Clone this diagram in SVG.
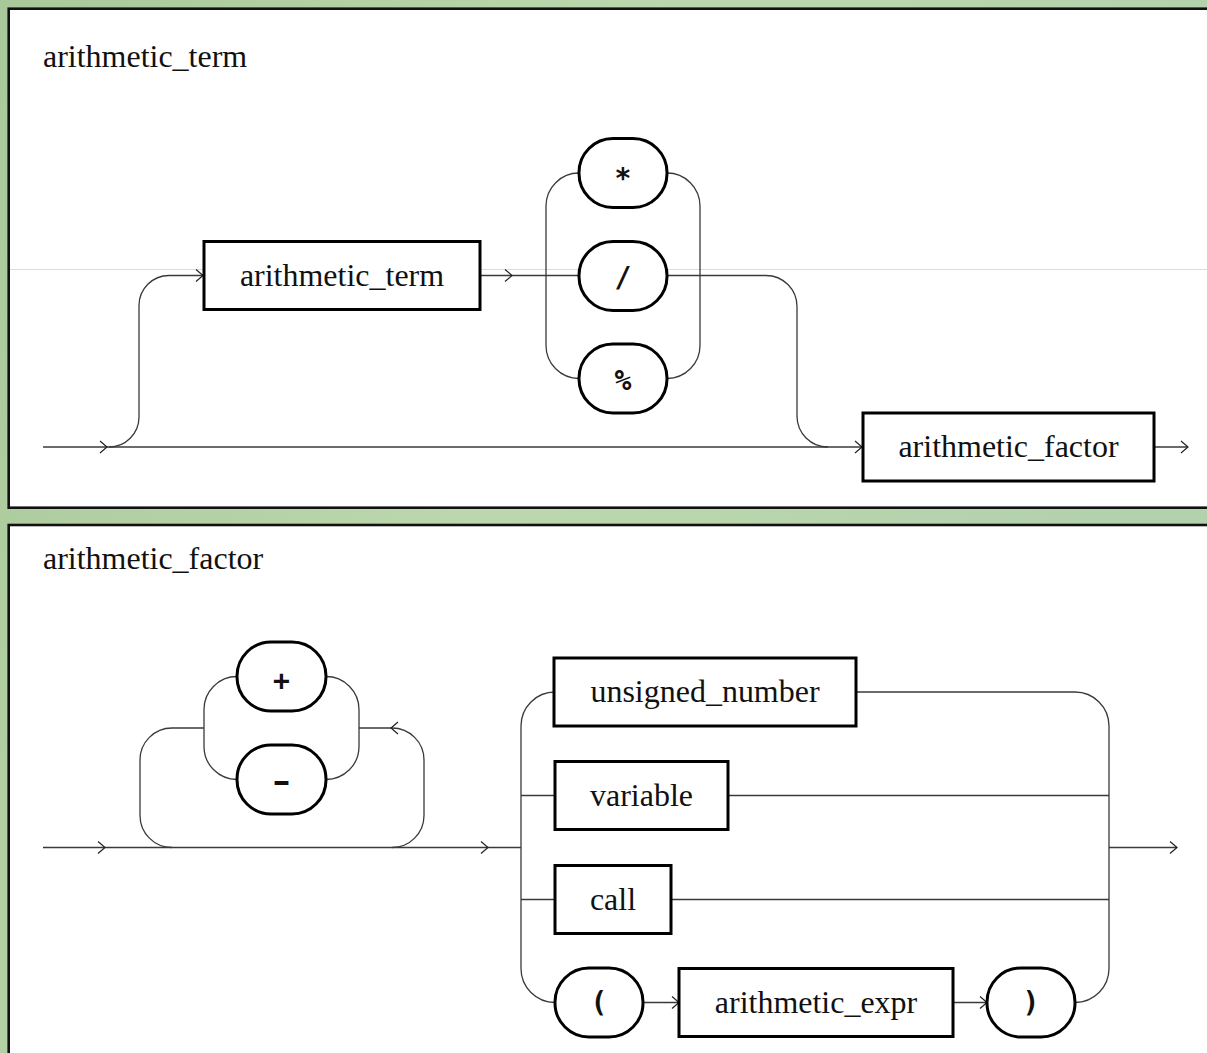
<svg xmlns="http://www.w3.org/2000/svg" width="1207" height="1053" viewBox="0 0 1207 1053">
<style>
.panel{fill:#ffffff;stroke:#111;stroke-width:2.6}
.title{font-family:"Liberation Serif","Times New Roman",serif;font-size:31px;fill:#111}
.box{fill:#fff;stroke:#000;stroke-width:3}
.oval{fill:#fff;stroke:#000;stroke-width:3}
.bt{font-family:"Liberation Serif","Times New Roman",serif;font-size:31px;fill:#111;text-anchor:middle}
.ot{font-family:"DejaVu Sans Mono","Liberation Mono",monospace;font-weight:bold;font-size:28px;fill:#111;text-anchor:middle}
.ln{fill:none;stroke:#3a3a3a;stroke-width:1.3}
.ar{fill:none;stroke:#222;stroke-width:1.2}
</style>
<defs>
<linearGradient id="bg" x1="0" y1="0" x2="1" y2="0.3">
<stop offset="0" stop-color="#a9c99a"/>
<stop offset="0.5" stop-color="#bcd7ad"/>
<stop offset="1" stop-color="#b2d2ac"/>
</linearGradient>
</defs>
<rect x="0" y="0" width="1207" height="1053" fill="url(#bg)"/>
<g id="panel1">
<rect class="panel" x="8.7" y="8.7" width="1220" height="499"/>
<path d="M10,269.5 H1207" stroke="#d4e4cc" stroke-width="1" fill="none"/>
<text class="title" transform="matrix(1.032 0 0 1 43 66.5)" x="0" y="0">arithmetic_term</text>
</g>
<g id="panel2">
<rect class="panel" x="8.7" y="525" width="1220" height="540"/>
<text class="title" transform="matrix(1.032 0 0 1 43 568.5)" x="0" y="0">arithmetic_factor</text>
</g>
<g id="connectors">
<path class="ln" d="M43,447 H862"/>
<path class="ln" d="M109,447 A30,30 0 0 0 139,417 V305.5 A30,30 0 0 1 169,275.5 H203"/>
<path class="ln" d="M480,275.5 H579"/>
<path class="ln" d="M579,173 A33,33 0 0 0 546,206 V345.5 A33,33 0 0 0 579,378.5"/>
<path class="ln" d="M667,173 A33,33 0 0 1 700,206 V345.5 A33,33 0 0 1 667,378.5"/>
<path class="ln" d="M667,275.5 H766 A31,31 0 0 1 797,306.5 V416 A31,31 0 0 0 828,447"/>
<path class="ln" d="M1154,447 H1188"/>
<polyline class="ar" points="100,441 107,447 100,453"/>
<polyline class="ar" points="196,269.5 203,275.5 196,281.5"/>
<polyline class="ar" points="505,269.5 512,275.5 505,281.5"/>
<polyline class="ar" points="855,441 862,447 855,453"/>
<polyline class="ar" points="1181,441 1188,447 1181,453"/>

<path class="ln" d="M43,847.5 H521"/>
<path class="ln" d="M172,847.5 A32,32 0 0 1 140,815.5 V760 A32,32 0 0 1 172,728 H204"/>
<path class="ln" d="M359,728 H392 A32,32 0 0 1 424,760 V815.5 A32,32 0 0 1 392,847.5"/>
<path class="ln" d="M237,676.5 A33,33 0 0 0 204,709.5 V746.5 A33,33 0 0 0 237,779.5"/>
<path class="ln" d="M326,676.5 A33,33 0 0 1 359,709.5 V746.5 A33,33 0 0 1 326,779.5"/>
<polyline class="ar" points="98,841.5 105,847.5 98,853.5"/>
<polyline class="ar" points="481,841.5 488,847.5 481,853.5"/>
<polyline class="ar" points="398,722 391,728 398,734"/>
<path class="ln" d="M555,692 A34,34 0 0 0 521,726 V968.5 A34,34 0 0 0 555,1002.5"/>
<path class="ln" d="M521,795.5 H555 M521,899.5 H555"/>
<path class="ln" d="M856,692 H1075 A34,34 0 0 1 1109,726 V968.5 A34,34 0 0 1 1075,1002.5"/>
<path class="ln" d="M728,795.5 H1109 M671,899.5 H1109"/>
<path class="ln" d="M1109,847.5 H1177"/>
<polyline class="ar" points="1170,841.5 1177,847.5 1170,853.5"/>
<path class="ln" d="M643,1002.5 H679 M953,1002.5 H987"/>
<polyline class="ar" points="672,996.5 679,1002.5 672,1008.5"/>
<polyline class="ar" points="980,996.5 987,1002.5 980,1008.5"/>
</g>
<g id="n_arithmetic_term">
<rect class="box" x="204" y="241.5" width="276" height="68"/>
<text class="bt" transform="matrix(1.032 0 0 1 342 285.5)" x="0" y="0">arithmetic_term</text>
</g>
<g id="n_mul">
<rect class="oval" x="579" y="138.5" width="88" height="69" rx="34" ry="34"/>
<text class="ot" x="623" y="188">*</text>
</g>
<g id="n_div">
<rect class="oval" x="579" y="241.5" width="88" height="69" rx="34" ry="34"/>
<text class="ot" x="623" y="287">/</text>
</g>
<g id="n_mod">
<rect class="oval" x="579" y="344" width="88" height="69" rx="34" ry="34"/>
<text class="ot" x="623" y="390">%</text>
</g>
<g id="n_arithmetic_factor">
<rect class="box" x="863" y="413" width="291" height="68"/>
<text class="bt" transform="matrix(1.032 0 0 1 1008.5 456.5)" x="0" y="0">arithmetic_factor</text>
</g>
<g id="n_plus">
<rect class="oval" x="237" y="642" width="89" height="69" rx="34" ry="34"/>
<text class="ot" x="281.5" y="690">+</text>
</g>
<g id="n_minus">
<rect class="oval" x="237" y="745" width="89" height="69" rx="34" ry="34"/>
<text class="ot" transform="matrix(1.6 0 0 1 281.5 791)" x="0" y="0">-</text>
</g>
<g id="n_unsigned_number">
<rect class="box" x="554" y="658" width="302" height="68"/>
<text class="bt" transform="matrix(1.032 0 0 1 705 702)" x="0" y="0">unsigned_number</text>
</g>
<g id="n_variable">
<rect class="box" x="555" y="761.5" width="173" height="68"/>
<text class="bt" transform="matrix(1.032 0 0 1 641.5 805.5)" x="0" y="0">variable</text>
</g>
<g id="n_call">
<rect class="box" x="555" y="865.5" width="116" height="68"/>
<text class="bt" transform="matrix(1.032 0 0 1 613 909.5)" x="0" y="0">call</text>
</g>
<g id="n_lparen">
<rect class="oval" x="555" y="968" width="88" height="69" rx="34" ry="34"/>
<text class="ot" x="599" y="1012">(</text>
</g>
<g id="n_arithmetic_expr">
<rect class="box" x="679" y="968.5" width="274" height="68"/>
<text class="bt" transform="matrix(1.032 0 0 1 816 1012.5)" x="0" y="0">arithmetic_expr</text>
</g>
<g id="n_rparen">
<rect class="oval" x="987" y="968" width="88" height="69" rx="34" ry="34"/>
<text class="ot" x="1031" y="1012">)</text>
</g>
</svg>
